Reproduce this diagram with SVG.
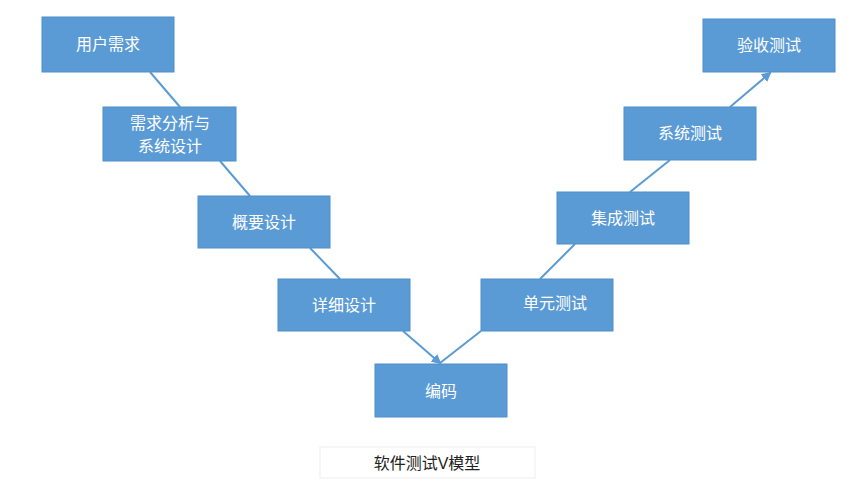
<svg xmlns="http://www.w3.org/2000/svg" width="864" height="481" viewBox="0 0 864 481">
<style>
.n{fill:#5b9bd5;stroke:#4f8fca;stroke-width:1}
.t{fill:#fff;font-family:"Liberation Sans","Noto Sans CJK SC",sans-serif;font-size:16px;text-anchor:middle;dominant-baseline:central}
.c{stroke:#5b9bd5;stroke-width:2;fill:none}
</style>
<defs><marker id="a" markerWidth="10" markerHeight="10" refX="8" refY="5" orient="auto" markerUnits="userSpaceOnUse"><path d="M0,0 L10,5 L0,10 z" fill="#5b9bd5"/></marker></defs>
<rect width="864" height="481" fill="#fff"/>
<g id="connectors">
<line class="c" x1="150" y1="72" x2="180" y2="107"/>
<line class="c" x1="220" y1="161" x2="250" y2="196"/>
<line class="c" x1="310" y1="248" x2="340" y2="279"/>
<line class="c" x1="403" y1="331" x2="440" y2="363" marker-end="url(#a)"/>
<line class="c" x1="440" y1="363" x2="481" y2="331"/>
<line class="c" x1="540" y1="279" x2="575" y2="244"/>
<line class="c" x1="630" y1="192" x2="670" y2="160"/>
<line class="c" x1="730" y1="107" x2="770" y2="73" marker-end="url(#a)"/>
</g>
<g id="n1"><rect class="n" x="42" y="17" width="132" height="55"/><text class="t" x="108" y="44">用户需求</text></g>
<g id="n2"><rect class="n" x="103" y="107" width="133" height="54"/><text class="t" x="170" y="123">需求分析与</text><text class="t" x="170" y="146">系统设计</text></g>
<g id="n3"><rect class="n" x="198" y="196" width="132" height="52"/><text class="t" x="264" y="222">概要设计</text></g>
<g id="n4"><rect class="n" x="278" y="279" width="132" height="52"/><text class="t" x="344" y="305">详细设计</text></g>
<g id="n5"><rect class="n" x="375" y="364" width="132" height="53"/><text class="t" x="441" y="391">编码</text></g>
<g id="n6"><rect class="n" x="481" y="279" width="132" height="52"/><text class="t" x="555" y="303">单元测试</text></g>
<g id="n7"><rect class="n" x="557" y="192" width="132" height="52"/><text class="t" x="623" y="218">集成测试</text></g>
<g id="n8"><rect class="n" x="624" y="107" width="132" height="53"/><text class="t" x="690" y="133">系统测试</text></g>
<g id="n9"><rect class="n" x="703" y="19" width="132" height="53"/><text class="t" x="769" y="45">验收测试</text></g>
<g id="caption"><rect x="320" y="447" width="215" height="31" fill="#fff" stroke="#eee"/><text x="427" y="463" font-family="Liberation Sans,Noto Sans CJK SC,sans-serif" font-size="16" text-anchor="middle" dominant-baseline="central" fill="#222">软件测试V模型</text></g>
</svg>
